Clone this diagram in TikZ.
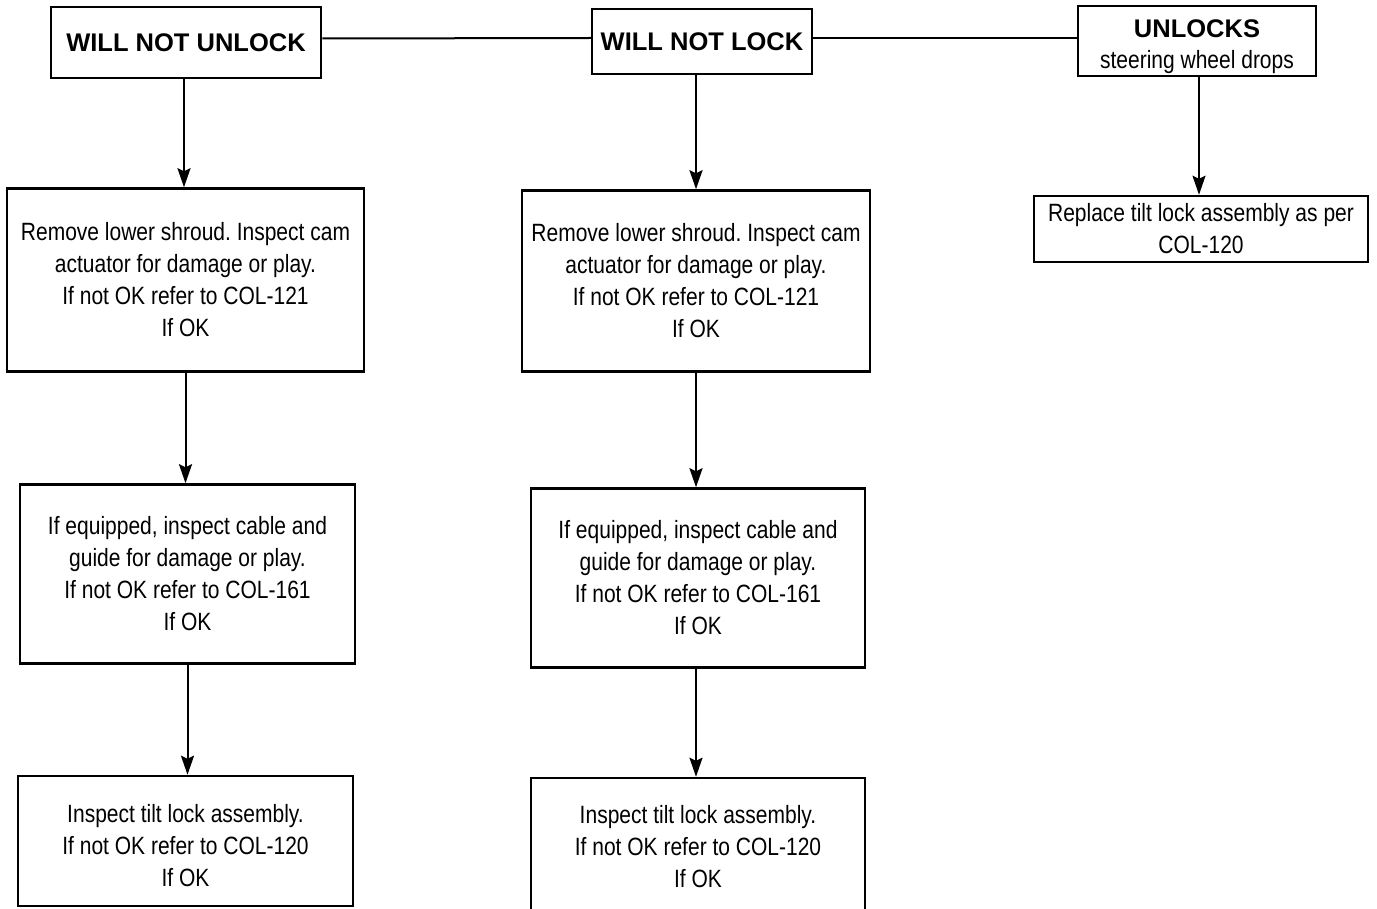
\documentclass[tikz,border=0pt]{standalone}
\usepackage{fontspec}
\setmainfont{Liberation Sans}[FakeStretch=0.84]
\newfontfamily\headfont{Liberation Sans}
\usetikzlibrary{arrows.meta}
\frenchspacing

\begin{document}
\begin{tikzpicture}[x=1pt,y=-1pt,
    box/.style={draw, line width=2.5pt, inner sep=0pt, align=center,
      font=\fontsize{25}{32}\selectfont},
    headbox/.style={box, font=\headfont\fontsize{25.5}{32}\selectfont\bfseries},
    arrow/.style={line width=2pt, -{Stealth[length=19pt,width=13pt,inset=3pt]}},
    link/.style={line width=2pt}]
  \useasboundingbox (0,0) rectangle (1377,909);
  %% the three headings along the top
  \node[headbox, minimum width=270pt, minimum height=71pt] (unlockhead) at (186,42.5) {WILL NOT UNLOCK};
  \node[headbox, minimum width=220pt, minimum height=65pt] (lockhead) at (702,41.5) {WILL NOT LOCK};
  \node[headbox, minimum width=238pt, minimum height=70pt] (dropshead) at (1197,41)
    {\rule{0pt}{29pt}UNLOCKS\\[-1pt]{\mdseries\rmfamily\fontsize{25}{32}\selectfont steering wheel drops}};
  %% left column
  \node[box, minimum width=357pt, minimum height=183pt] (unlockcam) at (185.5,280)
    {Remove lower shroud. Inspect cam\\actuator for damage or play.\\If not OK refer to COL-121\\If OK};
  \node[box, minimum width=335pt, minimum height=179pt] (unlockcable) at (187.5,574)
    {If equipped, inspect cable and\\guide for damage or play.\\If not OK refer to COL-161\\If OK};
  \node[box, minimum width=335pt, minimum height=130pt] (unlocktilt) at (185.5,841)
    {\rule{0pt}{27pt}Inspect tilt lock assembly.\\If not OK refer to COL-120\\If OK};
  %% middle column
  \node[box, minimum width=348pt, minimum height=181pt] (lockcam) at (696,281)
    {Remove lower shroud. Inspect cam\\actuator for damage or play.\\If not OK refer to COL-121\\If OK};
  \node[box, minimum width=334pt, minimum height=179pt] (lockcable) at (698,578)
    {If equipped, inspect cable and\\guide for damage or play.\\If not OK refer to COL-161\\If OK};
  \node[box, minimum width=334pt, minimum height=138pt] (locktilt) at (698,847)
    {Inspect tilt lock assembly.\\If not OK refer to COL-120\\If OK};
  %% right column
  \node[box, minimum width=334pt, minimum height=66pt] (replacetilt) at (1201,229)
    {Replace tilt lock assembly as per\\COL-120};
  %% connectors
  \draw[link] ([yshift=4pt]unlockhead.east) -- ([yshift=3.5pt]lockhead.west);
  \draw[link] ([yshift=3.5pt]lockhead.east) -- ([yshift=3pt]dropshead.west);
  \draw[arrow] ([xshift=-2pt]unlockhead.south) -- ([xshift=-2pt]unlockhead.south |- unlockcam.north);
  \draw[arrow] (unlockcam.south) -- (unlockcam.south |- unlockcable.north);
  \draw[arrow] (unlockcable.south) -- (unlockcable.south |- unlocktilt.north);
  \draw[arrow] (lockcam.north |- lockhead.south) -- (lockcam.north);
  \draw[arrow] (lockcam.south) -- (lockcam.south |- lockcable.north);
  \draw[arrow] ([xshift=-2pt]lockcable.south) -- ([xshift=-2pt]lockcable.south |- locktilt.north);
  \draw[arrow] ([xshift=2pt]dropshead.south) -- ([xshift=2pt]dropshead.south |- replacetilt.north);
\end{tikzpicture}
\end{document}
